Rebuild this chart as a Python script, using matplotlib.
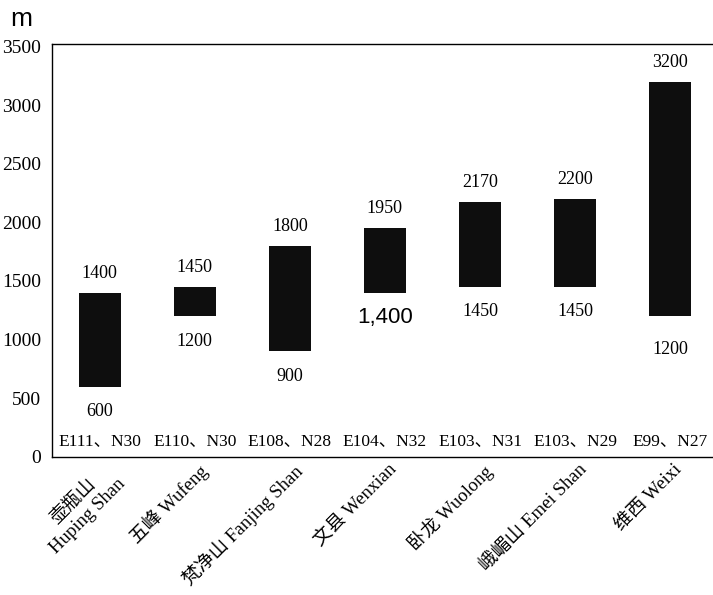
import matplotlib
matplotlib.use("Agg")
import matplotlib.pyplot as plt

# elevation ranges (m) of the sites
sites = ["壶瓶山\nHuping Shan", "五峰 Wufeng", "梵净山 Fanjing Shan", "文县 Wenxian",
         "卧龙 Wuolong", "峨嵋山 Emei Shan", "维西 Weixi"]
coords = ["E111、N30", "E110、N30", "E108、N28", "E104、N32",
          "E103、N31", "E103、N29", "E99、N27"]
low = [600, 1200, 900, 1400, 1450, 1450, 1200]
high = [1400, 1450, 1800, 1950, 2170, 2200, 3200]
yticks = [0, 500, 1000, 1500, 2000, 2500, 3000, 3500]

SERIF = ["Liberation Serif", "Noto Sans CJK SC"]

fig = plt.figure(figsize=(7.13, 5.95), dpi=100)
ax = fig.add_axes([0.073, 0.232, 0.927, 0.694])

x = list(range(len(sites)))
heights = [h - l for h, l in zip(high, low)]
ax.bar(x, heights, bottom=low, width=0.44, color="#0e0e0e", edgecolor="none")

for i in x:
    ax.annotate(str(high[i]), (i, high[i]), xytext=(0, 14), textcoords="offset points",
                ha="center", va="center", fontsize=13, family=SERIF)
    if i == 3:
        # this one was typed in a different font in the source
        ax.annotate("1,400", (i, low[i]), xytext=(0, -18), textcoords="offset points",
                    ha="center", va="center", fontsize=16, family="Liberation Sans")
    else:
        dy = -24 if i == 6 else -18
        ax.annotate(str(low[i]), (i, low[i]), xytext=(0, dy), textcoords="offset points",
                    ha="center", va="center", fontsize=13, family=SERIF)
    ax.text(i, 135, coords[i], ha="center", va="center", fontsize=12.5, family=SERIF)

ax.set_xlim(-0.5, 6.45)
ax.set_ylim(0, 3520)
ax.set_yticks(yticks)
ax.set_yticklabels([str(v) for v in yticks], family=SERIF, fontsize=14)
ax.set_xticks([i + 0.03 for i in x])
ax.set_xticklabels(sites, rotation=45, ha="right", rotation_mode="anchor",
                   multialignment="center", family=SERIF, fontsize=13.5)
ax.tick_params(axis="y", length=0, pad=8)
ax.tick_params(axis="x", length=0, pad=3)

ax.spines["right"].set_visible(False)
for s in ["left", "top", "bottom"]:
    ax.spines[s].set_linewidth(1.0)

fig.text(0.014, 0.968, "m", fontsize=19, family="Liberation Sans", ha="left", va="center")

fig.savefig("out.png", dpi=100)
